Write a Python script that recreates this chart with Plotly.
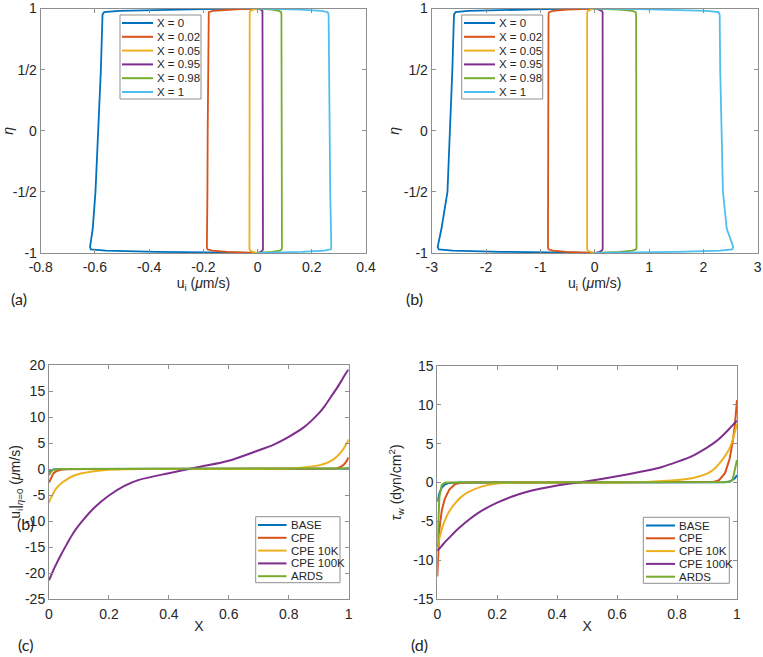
import plotly.graph_objects as go

# ---------------- data ----------------
COLORS = ["#0072BD", "#D95319", "#EDB120", "#7E2F8E", "#77AC30", "#4DBEEE"]

# panels (a) and (b): velocity profiles u_i(eta)
profile_names = ["X = 0", "X = 0.02", "X = 0.05", "X = 0.95", "X = 0.98", "X = 1"]
eta = [-1, -0.995, -0.99, -0.98, -0.97, -0.95, -0.8, -0.5, 0, 0.5, 0.95, 0.97, 0.98, 0.99, 0.995, 1]

u_a = [
    [0, -0.22, -0.37, -0.56, -0.615, -0.618, -0.608, -0.598, -0.588, -0.578, -0.572, -0.566, -0.51, -0.34, -0.2, 0],
    [0, -0.066, -0.112, -0.168, -0.185, -0.187, -0.186, -0.185, -0.184, -0.183, -0.182, -0.180, -0.164, -0.109, -0.064, 0],
    [0, -0.011, -0.018, -0.027, -0.030, -0.030, -0.030, -0.030, -0.030, -0.030, -0.030, -0.029, -0.027, -0.018, -0.010, 0],
    [0, 0.007, 0.012, 0.018, 0.020, 0.020, 0.020, 0.020, 0.020, 0.020, 0.020, 0.020, 0.018, 0.012, 0.007, 0],
    [0, 0.032, 0.054, 0.081, 0.089, 0.090, 0.090, 0.089, 0.089, 0.088, 0.088, 0.087, 0.079, 0.053, 0.031, 0],
    [0, 0.095, 0.163, 0.245, 0.270, 0.272, 0.270, 0.268, 0.266, 0.264, 0.262, 0.259, 0.236, 0.157, 0.092, 0],
]

u_b = [
    [0, -1.01, -1.74, -2.61, -2.87, -2.89, -2.82, -2.71, -2.66, -2.62, -2.59, -2.56, -2.33, -1.56, -0.91, 0],
    [0, -0.30, -0.52, -0.77, -0.85, -0.86, -0.86, -0.855, -0.853, -0.851, -0.85, -0.84, -0.77, -0.51, -0.30, 0],
    [0, -0.049, -0.084, -0.126, -0.139, -0.14, -0.14, -0.14, -0.14, -0.14, -0.14, -0.139, -0.126, -0.084, -0.049, 0],
    [0, 0.051, 0.088, 0.132, 0.146, 0.147, 0.147, 0.147, 0.147, 0.147, 0.147, 0.146, 0.132, 0.088, 0.051, 0],
    [0, 0.27, 0.46, 0.69, 0.765, 0.77, 0.77, 0.77, 0.768, 0.765, 0.762, 0.755, 0.69, 0.46, 0.27, 0],
    [0, 0.89, 1.53, 2.30, 2.53, 2.55, 2.43, 2.36, 2.33, 2.31, 2.30, 2.28, 2.07, 1.38, 0.81, 0],
]

# panels (c) and (d): quantities along X
case_names = ["BASE", "CPE", "CPE 10K", "CPE 100K", "ARDS"]
X = [0, 0.003, 0.007, 0.015, 0.025, 0.04, 0.06, 0.08, 0.1, 0.15, 0.2, 0.25, 0.3, 0.4, 0.5,
     0.6, 0.7, 0.75, 0.8, 0.85, 0.9, 0.92, 0.94, 0.96, 0.975, 0.985, 0.993, 0.997, 1]

u_mid = [
    [-0.6, -0.4, -0.25, -0.1, -0.03, 0, 0, 0, 0, 0, 0, 0, 0, 0, 0,
     0, 0, 0, 0, 0, 0, 0, 0, 0, 0, 0.02, 0.08, 0.15, 0.2],
    [-2.6, -2.2, -1.7, -0.8, -0.4, -0.15, -0.05, -0.01, 0, 0, 0, 0, 0, 0, 0,
     0, 0, 0, 0, 0, 0, 0, 0.02, 0.1, 0.45, 0.9, 1.5, 1.9, 2.25],
    [-6.5, -6.0, -5.5, -4.6, -3.7, -2.8, -2.0, -1.35, -0.95, -0.42, -0.15, -0.06, -0.02, 0, 0,
     0, 0.02, 0.05, 0.12, 0.3, 0.7, 1.0, 1.5, 2.35, 3.3, 4.1, 4.9, 5.3, 5.7],
    [-21.4, -21.0, -20.5, -19.4, -18.2, -16.5, -14.4, -12.4, -10.8, -7.5, -5.1, -3.3, -2.1, -0.8, 0.4,
     1.6, 3.6, 4.7, 6.2, 8.0, 10.7, 12.1, 13.8, 15.5, 16.9, 17.9, 18.6, 18.9, 19.1],
    [-1.2, -0.8, -0.45, -0.15, -0.04, 0, 0, 0, 0, 0, 0, 0, 0, 0, 0,
     0, 0, 0, 0, 0, 0, 0, 0, 0, 0.02, 0.05, 0.12, 0.2, 0.3],
]

tau_w = [
    [-2.5, -1.9, -1.35, -0.65, -0.25, -0.05, 0, 0, 0, 0, 0, 0, 0, 0, 0,
     0, 0, 0, 0, 0, 0, 0, 0, 0.02, 0.12, 0.3, 0.55, 0.75, 0.95],
    [-12.1, -8.7, -6.0, -3.6, -2.1, -0.9, -0.2, -0.05, 0, 0, 0, 0, 0, 0, 0,
     0, 0, 0, 0, 0, 0, 0.05, 0.3, 1.2, 3.0, 5.1, 7.4, 9.0, 10.6],
    [-8.5, -7.9, -7.2, -6.0, -4.9, -3.7, -2.65, -1.85, -1.3, -0.5, -0.13, -0.03, 0, 0, 0,
     0, 0.08, 0.18, 0.32, 0.55, 1.15, 1.6, 2.4, 3.4, 4.4, 5.4, 6.5, 7.1, 7.6],
    [-8.8, -8.65, -8.5, -8.15, -7.7, -7.1, -6.3, -5.6, -4.95, -3.6, -2.6, -1.8, -1.18, -0.39, 0.15,
     0.8, 1.55, 2.0, 2.65, 3.4, 4.5, 5.0, 5.6, 6.35, 6.95, 7.35, 7.7, 7.85, 7.96],
    [-8.3, -5.3, -1.85, -0.3, -0.03, 0, 0, 0, 0, 0, 0, 0, 0, 0, 0,
     0, 0, 0, 0, 0, 0, 0, 0, 0, 0.05, 0.3, 1.6, 2.3, 2.9],
]

# tick labels
eta_ticks = [-1, -0.5, 0, 0.5, 1]
eta_ticktext = ["-1", "-1/2", "0", "1/2", "1"]
ua_ticks = [-0.8, -0.6, -0.4, -0.2, 0, 0.2, 0.4]
ua_ticktext = ["-0.8", "-0.6", "-0.4", "-0.2", "0", "0.2", "0.4"]
ub_ticks = [-3, -2, -1, 0, 1, 2, 3]
ub_ticktext = ["-3", "-2", "-1", "0", "1", "2", "3"]
x_ticks = [0, 0.2, 0.4, 0.6, 0.8, 1]
x_ticktext = ["0", "0.2", "0.4", "0.6", "0.8", "1"]
uc_ticks = [-25, -20, -15, -10, -5, 0, 5, 10, 15, 20]
uc_ticktext = ["-25", "-20", "-15", "-10", "-5", "0", "5", "10", "15", "20"]
td_ticks = [-15, -10, -5, 0, 5, 10, 15]
td_ticktext = ["-15", "-10", "-5", "0", "5", "10", "15"]

# ---------------- figure ----------------
W, H = 763, 657
FONT = "Liberation Sans, Arial, Helvetica, sans-serif"
AXC = "#8f8f8f"
TXT = "#262626"

fig = go.Figure()

for i, name in enumerate(profile_names):
    fig.add_trace(go.Scatter(x=u_a[i], y=eta, mode="lines", name=name,
                             line=dict(color=COLORS[i], width=1.8),
                             xaxis="x", yaxis="y"))
for i, name in enumerate(profile_names):
    fig.add_trace(go.Scatter(x=u_b[i], y=eta, mode="lines", name=name,
                             line=dict(color=COLORS[i], width=1.8),
                             xaxis="x2", yaxis="y2"))
SMOOTH = [0, 0, 0.6, 0.8, 0]
for i, name in enumerate(case_names):
    ln = dict(color=COLORS[i], width=2)
    if SMOOTH[i]:
        ln.update(shape="spline", smoothing=SMOOTH[i])
    fig.add_trace(go.Scatter(x=X, y=u_mid[i], mode="lines", name=name, line=ln,
                             xaxis="x3", yaxis="y3"))
for i, name in enumerate(case_names):
    ln = dict(color=COLORS[i], width=2)
    if SMOOTH[i]:
        ln.update(shape="spline", smoothing=SMOOTH[i])
    fig.add_trace(go.Scatter(x=X, y=tau_w[i], mode="lines", name=name, line=ln,
                             xaxis="x4", yaxis="y4"))


def px_x(a, b):
    return [a / W, b / W]


def px_y(top, bottom):
    return [1 - bottom / H, 1 - top / H]


def axis(domain, rng, tv, tt, anchor, title, standoff, lab_off=0):
    d = dict(domain=domain, range=rng, tickvals=tv, ticktext=tt, anchor=anchor,
             automargin=False, ticklabeloverflow="allow",
             ticks="inside", ticklen=4, tickcolor=AXC, tickwidth=1,
             showline=True, linecolor=AXC, linewidth=1, mirror="ticks",
             showgrid=False, zeroline=False,
             tickfont=dict(family=FONT, size=14, color=TXT),
             title=dict(text=title, font=dict(family=FONT, size=14, color=TXT), standoff=standoff))
    if lab_off:
        d["ticklabelstandoff"] = lab_off
    return d


utitle = "u<sub>i</sub> (<i>μ</i>m/s)"
fig.update_layout(
    xaxis=axis(px_x(40.7, 366), [-0.8, 0.4], ua_ticks, ua_ticktext, "y", utitle, 1, 1),
    yaxis=axis(px_y(8.5, 253), [-1, 1], eta_ticks, eta_ticktext, "x", "<i>η</i>", 0),
    xaxis2=axis(px_x(431.7, 757.7), [-3, 3], ub_ticks, ub_ticktext, "y2", utitle, 1, 1),
    yaxis2=axis(px_y(8.5, 253), [-1, 1], eta_ticks, eta_ticktext, "x2", "<i>η</i>", 0),
    xaxis3=axis(px_x(49, 348.7), [0, 1], x_ticks, x_ticktext, "y3", "X", 0, 2),
    yaxis3=axis(px_y(365, 599), [-25, 20], uc_ticks, uc_ticktext, "x3",
                "u<sub>i</sub>|<sub><i>η</i>=0</sub> (<i>μ</i>m/s)", 0),
    xaxis4=axis(px_x(437.3, 737), [0, 1], x_ticks, x_ticktext, "y4", "X", 0, 2),
    yaxis4=axis(px_y(366, 599), [-15, 15], td_ticks, td_ticktext, "x4",
                "<i>τ</i><sub>w</sub> (dyn/cm<sup>2</sup>)", 8),
)

# ---------------- legends (compact, MATLAB style) ----------------
LFONT = dict(family=FONT, size=11.5, color=TXT)
# box (left, right, top, bottom), key line x0, x1, text x, first row y, row step  -- in pixels
legend_specs = [
    ((120, 201, 15, 99), 122, 153, 155, 23, 13.8, profile_names),
    ((461.7, 542.7, 15, 99), 464, 495, 497, 23, 13.8, profile_names),
    ((255.7, 340, 516.7, 582.7), 258, 286.5, 288.5, 525, 12.8, case_names),
    ((643.3, 729.3, 517.3, 583.3), 646, 675, 677, 525.5, 12.8, case_names),
]
shapes = []
for (bl, br, bt, bb), lx0, lx1, tx, y0, dy, names in legend_specs:
    shapes.append(dict(type="rect", xref="paper", yref="paper", layer="above",
                       x0=bl / W, x1=br / W, y0=1 - bb / H, y1=1 - bt / H,
                       line=dict(color=AXC, width=1), fillcolor="white"))
    for k, name in enumerate(names):
        yy = 1 - (y0 + k * dy) / H
        shapes.append(dict(type="line", xref="paper", yref="paper", layer="above",
                           x0=lx0 / W, x1=lx1 / W, y0=yy, y1=yy,
                           line=dict(color=COLORS[k], width=2)))
        fig.add_annotation(text=name, x=tx / W, y=yy, xref="paper", yref="paper",
                           showarrow=False, font=LFONT, xanchor="left", yanchor="middle")
fig.update_layout(shapes=shapes)

PFONT = dict(family="Lato, Open Sans, sans-serif", size=16, color="#222222")
panel_labels = [("(a)", 19, 298), ("(b)", 414, 298), ("(b)", 25, 523), ("(c)", 25, 644), ("(d)", 419, 644)]
for text, px, py in panel_labels:
    fig.add_annotation(text=text, x=px / W, y=1 - py / H, xref="paper", yref="paper",
                       showarrow=False, font=PFONT, xanchor="center", yanchor="middle")

fig.update_layout(width=W, height=H, margin=dict(l=0, r=0, t=0, b=0),
                  paper_bgcolor="white", plot_bgcolor="white", showlegend=False)

fig.write_html("out.html")
